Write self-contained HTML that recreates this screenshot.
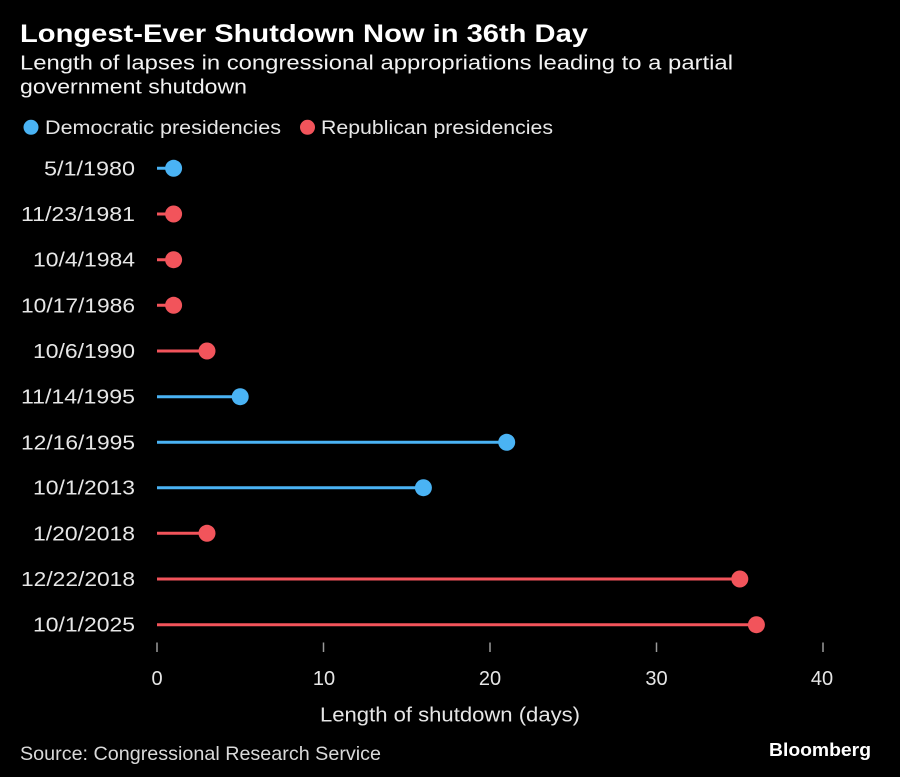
<!DOCTYPE html>
<html>
<head>
<meta charset="utf-8">
<style>
html,body{margin:0;padding:0;background:#000;}
svg{display:block;}
text{font-family:"Liberation Sans",sans-serif;}
</style>
</head>
<body>
<svg width="900" height="777" viewBox="0 0 900 777" xmlns="http://www.w3.org/2000/svg">
<rect width="900" height="777" fill="#000"/>
<text x="20" y="42" font-size="25" font-weight="bold" fill="#fff" textLength="568" lengthAdjust="spacingAndGlyphs">Longest-Ever Shutdown Now in 36th Day</text>
<text x="20" y="69.5" font-size="20" fill="#f2f2f2" textLength="713" lengthAdjust="spacingAndGlyphs">Length of lapses in congressional appropriations leading to a partial</text>
<text x="20" y="93.5" font-size="20" fill="#f2f2f2" textLength="227" lengthAdjust="spacingAndGlyphs">government shutdown</text>

<circle cx="31" cy="127.3" r="7.5" fill="#4ab3f4"/>
<text x="45" y="134" font-size="19.5" fill="#e6e6e6" textLength="236" lengthAdjust="spacingAndGlyphs">Democratic presidencies</text>
<circle cx="307.5" cy="127.3" r="7.5" fill="#f2545b"/>
<text x="321" y="134" font-size="19.5" fill="#e6e6e6" textLength="232" lengthAdjust="spacingAndGlyphs">Republican presidencies</text>

<g font-size="20" fill="#e6e6e6" text-anchor="end">
<text x="135" y="175.3" textLength="91" lengthAdjust="spacingAndGlyphs">5/1/1980</text>
<text x="135" y="221" textLength="114" lengthAdjust="spacingAndGlyphs">11/23/1981</text>
<text x="135" y="266.7" textLength="102" lengthAdjust="spacingAndGlyphs">10/4/1984</text>
<text x="135" y="312.3" textLength="114" lengthAdjust="spacingAndGlyphs">10/17/1986</text>
<text x="135" y="358" textLength="102" lengthAdjust="spacingAndGlyphs">10/6/1990</text>
<text x="135" y="403.7" textLength="114" lengthAdjust="spacingAndGlyphs">11/14/1995</text>
<text x="135" y="449.3" textLength="114" lengthAdjust="spacingAndGlyphs">12/16/1995</text>
<text x="135" y="494.7" textLength="102" lengthAdjust="spacingAndGlyphs">10/1/2013</text>
<text x="135" y="540.3" textLength="102" lengthAdjust="spacingAndGlyphs">1/20/2018</text>
<text x="135" y="586" textLength="114" lengthAdjust="spacingAndGlyphs">12/22/2018</text>
<text x="135" y="631.7" textLength="102" lengthAdjust="spacingAndGlyphs">10/1/2025</text>
</g>

<g stroke-width="3" stroke-linecap="butt">
<line x1="157" y1="168.3" x2="173.6" y2="168.3" stroke="#4ab3f4"/>
<line x1="157" y1="214" x2="173.6" y2="214" stroke="#f2545b"/>
<line x1="157" y1="259.7" x2="173.6" y2="259.7" stroke="#f2545b"/>
<line x1="157" y1="305.3" x2="173.6" y2="305.3" stroke="#f2545b"/>
<line x1="157" y1="351" x2="207" y2="351" stroke="#f2545b"/>
<line x1="157" y1="396.7" x2="240.2" y2="396.7" stroke="#4ab3f4"/>
<line x1="157" y1="442.3" x2="506.7" y2="442.3" stroke="#4ab3f4"/>
<line x1="157" y1="487.7" x2="423.4" y2="487.7" stroke="#4ab3f4"/>
<line x1="157" y1="533.3" x2="207" y2="533.3" stroke="#f2545b"/>
<line x1="157" y1="579" x2="739.8" y2="579" stroke="#f2545b"/>
<line x1="157" y1="624.7" x2="756.4" y2="624.7" stroke="#f2545b"/>
</g>
<g>
<circle cx="173.6" cy="168.3" r="8.5" fill="#4ab3f4"/>
<circle cx="173.6" cy="214" r="8.5" fill="#f2545b"/>
<circle cx="173.6" cy="259.7" r="8.5" fill="#f2545b"/>
<circle cx="173.6" cy="305.3" r="8.5" fill="#f2545b"/>
<circle cx="207" cy="351" r="8.5" fill="#f2545b"/>
<circle cx="240.2" cy="396.7" r="8.5" fill="#4ab3f4"/>
<circle cx="506.7" cy="442.3" r="8.5" fill="#4ab3f4"/>
<circle cx="423.4" cy="487.7" r="8.5" fill="#4ab3f4"/>
<circle cx="207" cy="533.3" r="8.5" fill="#f2545b"/>
<circle cx="739.8" cy="579" r="8.5" fill="#f2545b"/>
<circle cx="756.4" cy="624.7" r="8.5" fill="#f2545b"/>
</g>

<g stroke="#9a9a9a" stroke-width="1.5">
<line x1="157" y1="642.5" x2="157" y2="652"/>
<line x1="323.5" y1="642.5" x2="323.5" y2="652"/>
<line x1="490" y1="642.5" x2="490" y2="652"/>
<line x1="656.5" y1="642.5" x2="656.5" y2="652"/>
<line x1="823" y1="642.5" x2="823" y2="652"/>
</g>
<g font-size="20" fill="#e6e6e6" text-anchor="middle">
<text x="157" y="685">0</text>
<text x="324" y="685">10</text>
<text x="490" y="685">20</text>
<text x="656.5" y="685">30</text>
<text x="822" y="685">40</text>
</g>
<text x="320" y="721.5" font-size="20" fill="#e6e6e6" textLength="260" lengthAdjust="spacingAndGlyphs">Length of shutdown (days)</text>
<text x="20" y="760" font-size="19.5" fill="#d9d9d9" textLength="361" lengthAdjust="spacingAndGlyphs">Source: Congressional Research Service</text>
<text x="769" y="756" font-size="18.5" font-weight="bold" fill="#fff" textLength="102" lengthAdjust="spacingAndGlyphs">Bloomberg</text>
</svg>
</body>
</html>
